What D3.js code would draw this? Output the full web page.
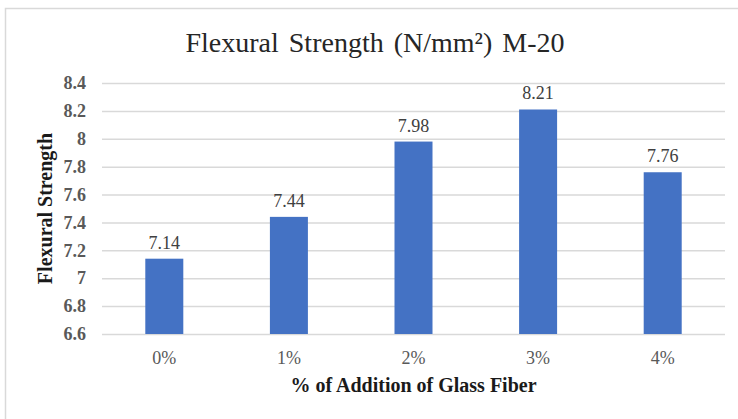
<!DOCTYPE html>
<html>
<head>
<meta charset="utf-8">
<script src="https://cdn.jsdelivr.net/npm/d3@7"></script>
<style>
  html, body { margin: 0; padding: 0; background: #fff; }
  svg { display: block; }
  svg text { font-family: "Liberation Serif", "Times New Roman", serif; }
</style>
</head>
<body>
<svg id="chart" width="738" height="419"></svg>
<script>
const categories = ["0%", "1%", "2%", "3%", "4%"];
const values = [7.14, 7.44, 7.98, 8.21, 7.76];
const yTicks = [6.6, 6.8, 7, 7.2, 7.4, 7.6, 7.8, 8, 8.2, 8.4];
const titleText = "Flexural Strength (N/mm²) M-20";
const xTitle = "% of Addition of Glass Fiber";
const yTitle = "Flexural Strength";

const FONT = '"Liberation Serif", "Times New Roman", serif';
const svg = d3.select("#chart");
const W = 738, H = 419;
const margin = { left: 102, right: 13, top: 83, bottom: 85 };
const plotW = W - margin.left - margin.right;
const plotH = H - margin.top - margin.bottom;

// outer chart border
svg.append("rect")
  .attr("x", 5.5).attr("y", 8.5)
  .attr("width", 760).attr("height", 440)
  .attr("fill", "#fff").attr("stroke", "#d9d9d9").attr("stroke-width", 1.5);

const g = svg.append("g").attr("transform", `translate(${margin.left},${margin.top})`);

const x = d3.scaleBand().domain(categories).range([0, plotW]).paddingInner(0.695).paddingOuter(0.3475);
const y = d3.scaleLinear().domain([6.6, 8.4]).range([plotH, 0]);

// gridlines
g.append("g")
  .call(d3.axisLeft(y).tickValues(yTicks).tickSize(-plotW).tickFormat(""))
  .call(s => s.select(".domain").remove())
  .call(s => s.selectAll("line").attr("stroke", "#d9d9d9").attr("stroke-width", 1.5));

// y tick labels
g.append("g")
  .call(d3.axisLeft(y).tickValues(yTicks).tickSize(0).tickPadding(16).tickFormat(d3.format("")))
  .attr("font-family", FONT)
  .call(s => s.select(".domain").remove())
  .call(s => s.selectAll("text")
    .attr("font-size", 18).attr("font-weight", "bold").attr("fill", "#595959"));

// bars
g.selectAll("rect.bar").data(values).enter().append("rect")
  .attr("class", "bar")
  .attr("x", (d, i) => x(categories[i]))
  .attr("width", x.bandwidth())
  .attr("y", d => y(d))
  .attr("height", d => plotH - y(d))
  .attr("fill", "#4472C4");

// data labels
g.selectAll("text.lbl").data(values).enter().append("text")
  .attr("class", "lbl")
  .attr("x", (d, i) => x(categories[i]) + x.bandwidth() / 2)
  .attr("y", d => y(d) - 10)
  .attr("text-anchor", "middle")
  .attr("font-size", 18).attr("fill", "#404040")
  .text(d => d.toFixed(2));

// x tick labels
g.append("g")
  .attr("transform", `translate(0,${plotH})`)
  .call(d3.axisBottom(x).tickSize(0).tickPadding(17))
  .attr("font-family", FONT)
  .call(s => s.select(".domain").remove())
  .call(s => s.selectAll("text")
    .attr("font-size", 18).attr("fill", "#595959"));

// title
svg.append("text")
  .attr("x", 375).attr("y", 52)
  .attr("text-anchor", "middle")
  .attr("font-size", 28).attr("fill", "#262626")
  .attr("word-spacing", 3)
  .text(titleText);

// x title
svg.append("text")
  .attr("x", margin.left + plotW / 2).attr("y", 392)
  .attr("text-anchor", "middle")
  .attr("font-size", 20).attr("font-weight", "bold").attr("fill", "#1a1a1a")
  .text(xTitle);

// y title
svg.append("text")
  .attr("transform", `translate(52,${margin.top + plotH / 2}) rotate(-90)`)
  .attr("text-anchor", "middle")
  .attr("font-size", 20).attr("font-weight", "bold").attr("fill", "#1a1a1a")
  .text(yTitle);
</script>
</body>
</html>
